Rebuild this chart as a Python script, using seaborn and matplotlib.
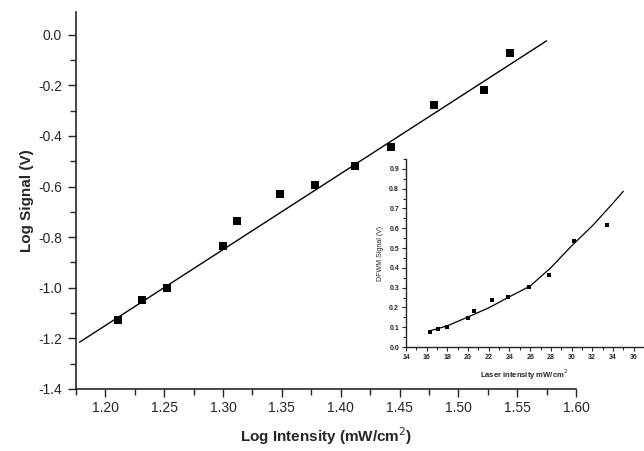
import numpy as np
import pandas as pd
import seaborn as sns
import matplotlib.pyplot as plt
from matplotlib.ticker import MultipleLocator

# main plot: log signal vs log intensity
log_intensity = [1.211, 1.231, 1.252, 1.300, 1.312, 1.348, 1.378, 1.412, 1.443, 1.479, 1.522, 1.544]
log_signal = [-1.129, -1.050, -1.002, -0.836, -0.737, -0.630, -0.594, -0.519, -0.442, -0.277, -0.218, -0.071]

# linear fit line ends
fit_x = [1.178, 1.575]
fit_y = [-1.215, -0.024]

# inset: DFWM signal vs laser intensity
laser_int = [16.35, 17.06, 17.96, 20.0, 20.57, 22.3, 23.9, 25.9, 27.85, 30.2, 33.45]
dfwm_signal = [0.076, 0.093, 0.100, 0.149, 0.184, 0.237, 0.255, 0.303, 0.365, 0.536, 0.614]

curve_x = [16.2, 18, 20, 22, 24, 26, 28, 30, 32, 34, 35.0]
curve_y = [0.080, 0.107, 0.152, 0.198, 0.254, 0.308, 0.401, 0.511, 0.612, 0.727, 0.787]

x_ticks = [1.20, 1.25, 1.30, 1.35, 1.40, 1.45, 1.50, 1.55, 1.60]
y_ticks = [-1.4, -1.2, -1.0, -0.8, -0.6, -0.4, -0.2, 0.0]

sns.set_style("ticks")
plt.rcParams["font.family"] = ["Liberation Sans", "DejaVu Sans"]

main = pd.DataFrame({"x": log_intensity, "y": log_signal})
fit = pd.DataFrame({"x": fit_x, "y": fit_y})
ins = pd.DataFrame({"x": laser_int, "y": dfwm_signal})
curve = pd.DataFrame({"x": curve_x, "y": curve_y})

fig = plt.figure(figsize=(6.44, 4.51), dpi=100)
ax = fig.add_axes([76 / 644, 1 - 389 / 451, 500 / 644, 377 / 451])

sns.lineplot(data=fit, x="x", y="y", ax=ax, color="black", linewidth=1.0)
sns.scatterplot(data=main, x="x", y="y", ax=ax, marker="s", color="black",
                s=34, edgecolor="black", linewidth=0, zorder=3)

ax.set_xlim(1.175, 1.60)
ax.set_ylim(-1.4, 0.09)
ax.set_xticks(x_ticks)
ax.set_xticklabels([f"{v:.2f}" for v in x_ticks])
ax.set_yticks(y_ticks)
ax.set_yticklabels([f"{v:.1f}" for v in y_ticks])
ax.xaxis.set_minor_locator(MultipleLocator(0.025))
ax.yaxis.set_minor_locator(MultipleLocator(0.1))
ax.tick_params(which="major", length=6, width=1, labelsize=10, direction="out", pad=4)
ax.tick_params(which="minor", length=4, width=1, direction="out")
ax.tick_params(axis="x", pad=3)
for s in ["left", "bottom"]:
    ax.spines[s].set_linewidth(1.2)
sns.despine(ax=ax)

ax.set_xlabel("Log Intensity (mW/cm$^2$)", fontsize=11, fontweight="bold", labelpad=7)
ax.set_ylabel("Log Signal (V)", fontsize=11, fontweight="bold", labelpad=3)

# inset
axi = fig.add_axes([406 / 644, 1 - 347 / 451, 237 / 644, 188 / 451])
axi.patch.set_alpha(0)
sns.lineplot(data=curve, x="x", y="y", ax=axi, color="black", linewidth=0.9)
sns.scatterplot(data=ins, x="x", y="y", ax=axi, marker="s", color="black",
                s=8, linewidth=0, zorder=3)
axi.set_xlim(14, 36.9)
axi.set_ylim(0, 0.95)
axi.xaxis.set_major_locator(MultipleLocator(2))
axi.xaxis.set_minor_locator(MultipleLocator(1))
axi.yaxis.set_major_locator(MultipleLocator(0.1))
axi.yaxis.set_minor_locator(MultipleLocator(0.05))
axi.tick_params(which="major", length=3, width=0.8, labelsize=5, pad=2)
axi.tick_params(which="minor", length=2, width=0.8)
for lab in axi.get_xticklabels() + axi.get_yticklabels():
    lab.set_fontweight("bold")
for s in ["left", "bottom"]:
    axi.spines[s].set_linewidth(1.0)
sns.despine(ax=axi)
axi.set_xlabel("Laser intensity mW/cm$^2$", fontsize=5.5, fontweight="bold", labelpad=5)
axi.set_ylabel("DFWM Signal (V)", fontsize=5, labelpad=4)

fig.savefig("out.png", dpi=100)
